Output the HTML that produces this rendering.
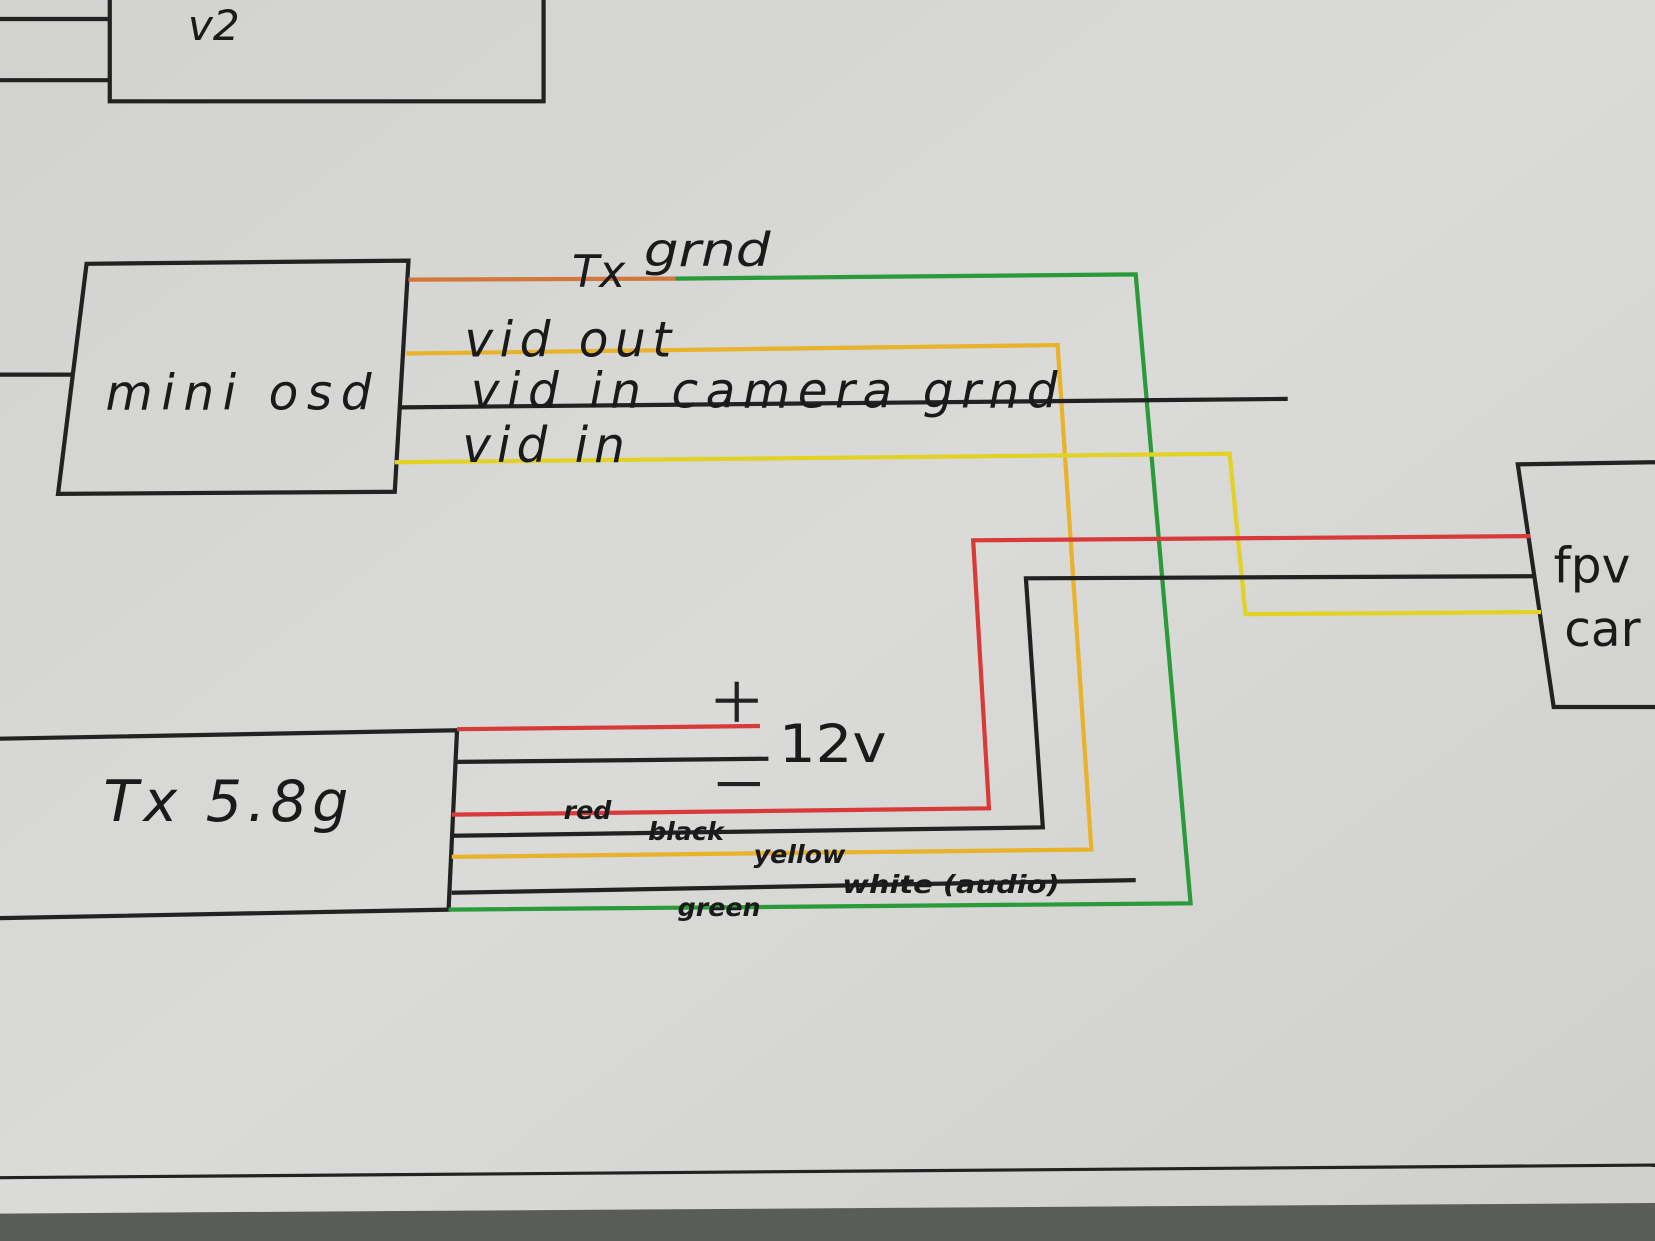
<!DOCTYPE html>
<html><head><meta charset="utf-8"><style>
html,body{margin:0;padding:0;background:#d6d6d3;}
svg{display:block}
text{font-family:"DejaVu Sans","Liberation Sans",sans-serif;fill:#1a1a1a;}
</style></head><body>
<svg width="1655" height="1241" viewBox="0 0 1568 1176" preserveAspectRatio="none" xmlns="http://www.w3.org/2000/svg">
<defs><linearGradient id="bg" x1="0" y1="0" x2="1" y2="1">
<stop offset="0" stop-color="#d2d2cf"/><stop offset="0.5" stop-color="#dadad8"/><stop offset="1" stop-color="#cfcfcb"/></linearGradient></defs>
<rect width="1568" height="1176" fill="url(#bg)"/>
<polygon points="0,1150 1568,1140 1568,1176 0,1176" fill="#5a5c58"/>
<line x1="0" y1="1116" x2="1568" y2="1104" stroke="#222" stroke-width="3"/>
<g fill="none" stroke-width="4">
<path d="M104,0 V96 H515 V0" stroke="#222"/>
<line x1="0" y1="18" x2="104" y2="18" stroke="#222"/>
<line x1="0" y1="76" x2="104" y2="76" stroke="#222"/>
<polygon points="82,250 387,247 374,466 55,468" stroke="#222"/>
<line x1="0" y1="355" x2="68" y2="355" stroke="#222"/>
<polyline points="0,700 433,692 425,862 0,870" stroke="#222"/>
<polyline points="1568,438 1438,440 1472,670 1568,670" stroke="#222"/>
<line x1="387" y1="265" x2="640" y2="264" stroke="#d2783c"/>
<polyline points="640,264 1076,260 1128,856 425,862" stroke="#2a9a3a"/>
<polyline points="385,335 1002,327 1034,805 428,812" stroke="#e8b22a"/>
<line x1="380" y1="386" x2="1220" y2="378" stroke="#222"/>
<polyline points="374,438 1165,430 1180,582 1460,580" stroke="#e2d226"/>
<polyline points="428,772 937,766 922,512 1450,508" stroke="#d83a3a"/>
<polyline points="428,792 988,784 972,548 1455,546" stroke="#222"/>
<line x1="428" y1="846" x2="1076" y2="834" stroke="#222"/>
<line x1="433" y1="691" x2="720" y2="688" stroke="#d83a3a"/>
<line x1="433" y1="722" x2="728" y2="719" stroke="#222"/>
<line x1="680" y1="743" x2="720" y2="743" stroke="#222"/>
<line x1="678" y1="664" x2="718" y2="664" stroke="#222"/>
<line x1="698" y1="646" x2="698" y2="684" stroke="#222"/>
</g>
<text x="178" y="38" font-size="40" font-style="italic">v2</text>
<text x="100" y="388" font-size="46" font-style="italic" textLength="252" lengthAdjust="spacing">mini  osd</text>
<text x="542" y="272" font-size="42" font-style="italic">Tx</text>
<text x="610" y="252" font-size="44" font-style="italic" textLength="120" lengthAdjust="spacingAndGlyphs">grnd</text>
<text x="440" y="338" font-size="46" font-style="italic" textLength="196" lengthAdjust="spacing">vid  out</text>
<text x="446" y="386" font-size="46" font-style="italic" textLength="556" lengthAdjust="spacing">vid  in  camera  grnd</text>
<text x="438" y="438" font-size="46" font-style="italic" textLength="154" lengthAdjust="spacing">vid  in</text>
<text x="98" y="778" font-size="54" font-style="italic" textLength="232" lengthAdjust="spacing">Tx  5.8g</text>
<text x="738" y="722" font-size="50" textLength="102" lengthAdjust="spacingAndGlyphs">12v</text>
<text x="1472" y="552" font-size="46">fpv</text>
<text x="1482" y="612" font-size="46">car</text>
<g font-size="24" font-weight="bold" font-style="italic">
<text x="534" y="776">red</text>
<text x="614" y="796">black</text>
<text x="714" y="818">yellow</text>
<text x="798" y="846" textLength="206" lengthAdjust="spacingAndGlyphs">white (audio)</text>
<text x="642" y="868">green</text>
</g>
</svg>
</body></html>
